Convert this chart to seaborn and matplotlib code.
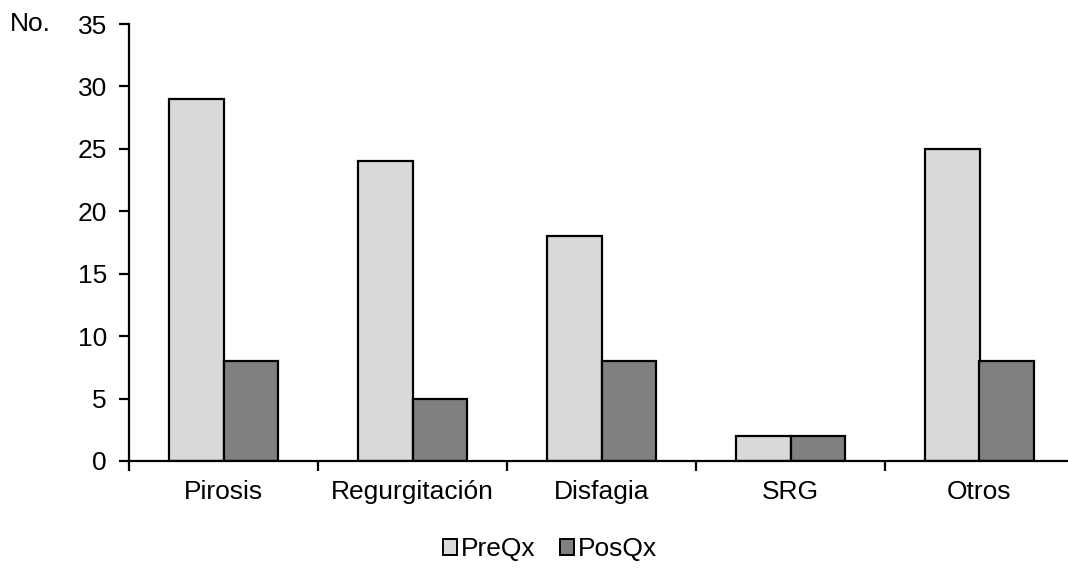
import matplotlib
matplotlib.use("Agg")
import matplotlib.pyplot as plt
from matplotlib.ticker import FixedLocator
import seaborn as sns
import pandas as pd

categories = ["Pirosis", "Regurgitación", "Disfagia", "SRG", "Otros"]
pre_qx = [29, 24, 18, 2, 25]
pos_qx = [8, 5, 8, 2, 8]
series_names = ["PreQx", "PosQx"]
y_ticks = [0, 5, 10, 15, 20, 25, 30, 35]

df = pd.DataFrame({
    "categoria": categories * 2,
    "valor": pre_qx + pos_qx,
    "serie": [series_names[0]] * len(categories) + [series_names[1]] * len(categories),
})

sns.set_theme(style="white")
plt.rcParams["font.family"] = ["Liberation Sans", "DejaVu Sans"]

fig = plt.figure(figsize=(10.68, 5.72), dpi=100)
ax = fig.add_axes([129 / 1068, 1 - 461 / 572, 945 / 1068, 437 / 572])

palette = {"PreQx": "#D9D9D9", "PosQx": "#808080"}
sns.barplot(data=df, x="categoria", y="valor", hue="serie", order=categories,
            hue_order=series_names, palette=palette, width=0.58, gap=0,
            edgecolor="black", linewidth=1.6, saturation=1, ax=ax, legend=False)

ax.set_xlim(-0.5, 4.5)
ax.set_ylim(0, 35)
ax.set_yticks(y_ticks)
ax.set_xlabel("")
ax.set_ylabel("")

for side in ("top", "right"):
    ax.spines[side].set_visible(False)
for side in ("left", "bottom"):
    ax.spines[side].set_color("black")
    ax.spines[side].set_linewidth(1.6)

ax.tick_params(axis="y", which="major", direction="out", length=7, width=1.6,
               color="black", labelsize=19, pad=9, left=True, labelcolor="black")
ax.tick_params(axis="x", which="major", length=0, labelsize=19, pad=14,
               labelcolor="black")
ax.xaxis.set_minor_locator(FixedLocator([-0.5, 0.5, 1.5, 2.5, 3.5]))
ax.tick_params(axis="x", which="minor", direction="out", length=7, width=1.6,
               color="black", bottom=True)

fig.text(10 / 1068, 1 - 24 / 572, "No.", fontsize=19, ha="left", va="center",
         color="black")

handles = [plt.Rectangle((0, 0), 1, 1, facecolor=palette[s], edgecolor="black",
                         linewidth=1.4) for s in series_names]
fig.legend(handles, series_names, loc="center", bbox_to_anchor=(0.515, 0.040),
           ncol=2, frameon=False, fontsize=19, handlelength=0.55, handleheight=0.55,
           handletextpad=0.15, columnspacing=0.9, labelcolor="black")

fig.savefig("out.png", dpi=100)
